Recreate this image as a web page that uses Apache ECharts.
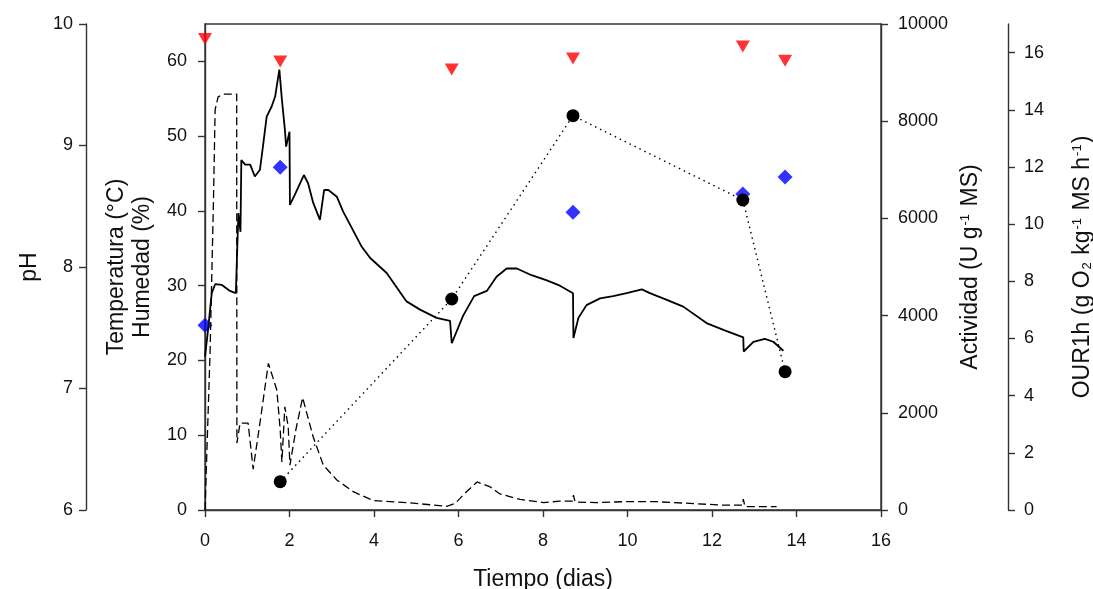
<!DOCTYPE html>
<html>
<head>
<meta charset="utf-8">
<script src="https://cdn.jsdelivr.net/npm/echarts@6.0.0/dist/echarts.min.js"></script>
<style>
  html, body { margin: 0; padding: 0; background: #fff; }
  #chart { width: 1093px; height: 589px; }
</style>
</head>
<body>
<div id="chart"></div>
<script>
// temperatura (solid line), days / °C
const tempT = [0, 0.07, 0.16, 0.24, 0.40, 0.59, 0.73, 0.76, 0.79, 0.84, 0.86, 0.95, 1.07, 1.18, 1.30, 1.38, 1.46, 1.58, 1.66, 1.76, 1.82, 1.89, 1.92, 2.00, 2.01, 2.13, 2.25, 2.34, 2.44, 2.56, 2.72, 2.82, 2.92, 3.12, 3.27, 3.43, 3.71, 3.91, 4.30, 4.77, 5.09, 5.48, 5.80, 5.83, 5.84, 6.11, 6.37, 6.67, 6.90, 7.14, 7.38, 7.73, 8.09, 8.40, 8.71, 8.72, 8.84, 9.03, 9.35, 9.66, 9.98, 10.34, 10.53, 10.93, 11.32, 11.87, 12.27, 12.74, 12.75, 12.98, 13.25, 13.45, 13.69]
const tempV = [20.5, 24.0, 29.0, 30.2, 30.1, 29.3, 29.0, 29.0, 39.7, 37.2, 46.8, 46.2, 46.2, 44.6, 45.5, 49.0, 52.6, 54.0, 55.3, 58.9, 54.9, 50.9, 48.6, 50.6, 40.8, 42.2, 43.7, 44.8, 43.7, 41.1, 38.8, 42.8, 42.8, 41.9, 39.9, 38.2, 35.2, 33.7, 31.7, 27.9, 26.8, 25.7, 25.3, 25.3, 22.3, 26.0, 28.6, 29.3, 31.2, 32.3, 32.3, 31.4, 30.7, 30.0, 29.0, 23.0, 25.7, 27.4, 28.3, 28.6, 29.0, 29.5, 29.0, 28.1, 27.2, 25.0, 24.1, 23.1, 21.2, 22.5, 22.9, 22.5, 21.3]

// OUR1h (dashed line)
const ourT = [0, 0.12, 0.20, 0.24, 0.31, 0.43, 0.75, 0.755, 0.83, 0.95, 1.02, 1.14, 1.30, 1.50, 1.70, 1.78, 1.82, 1.89, 1.97, 2.01, 2.15, 2.31, 2.56, 2.80, 3.12, 3.51, 3.98, 4.77, 5.72, 5.92, 6.19, 6.44, 6.75, 6.98, 7.46, 8.01, 8.40, 8.70, 8.72, 8.76, 9.27, 9.90, 10.69, 11.48, 12.27, 12.72, 12.74, 12.78, 13.53]
const ourV = [0, 5.5, 10.8, 14.0, 14.45, 14.55, 14.55, 2.34, 3.04, 3.04, 3.04, 1.43, 3.04, 5.13, 4.2, 2.8, 1.68, 3.61, 2.91, 1.57, 2.8, 3.93, 2.56, 1.57, 1.05, 0.64, 0.33, 0.26, 0.13, 0.23, 0.64, 0.98, 0.81, 0.56, 0.37, 0.26, 0.31, 0.31, 0.52, 0.28, 0.26, 0.29, 0.29, 0.23, 0.17, 0.17, 0.38, 0.12, 0.12]

// muestreos
const sampleT = [0, 1.78, 5.84, 8.71, 12.73, 13.73]
const humedad = [63.0, 60.0, 58.9, 60.4, 62.0, 60.1]
const phT = [0, 1.78, 8.71, 12.73, 13.73]
const ph = [7.52, 8.82, 8.45, 8.60, 8.74]
const actT = [1.78, 5.84, 8.71, 12.73, 13.73]
const actividad = [582, 4342, 8113, 6379, 2846]

const xTicks = [0, 2, 4, 6, 8, 10, 12, 14, 16]
const tempTicks = [0, 10, 20, 30, 40, 50, 60]
const ourTicks = [0, 2, 4, 6, 8, 10, 12, 14, 16]

const zip = (a, b) => a.map((v, i) => [v, b[i]])

const axisCol = '#333'
const txt = '#111'
const font = 'Liberation Sans, Arial, sans-serif'
const tickLbl = { color: txt, fontSize: 18, fontFamily: font, formatter: v => String(v) }
const nameStyle = {
  color: txt, fontSize: 23, fontFamily: font,
  rich: {
    a:   { fontSize: 23, fontFamily: font, color: txt },
    sup: { fontSize: 13, fontFamily: font, color: txt, verticalAlign: 'top', padding: [0, 1, 0, 1] },
    sub: { fontSize: 13, fontFamily: font, color: txt, verticalAlign: 'bottom', padding: [0, 1, 0, 1] },
  }
}
const baseY = {
  type: 'value',
  splitLine: { show: false },
  axisLine: { show: true, lineStyle: { color: axisCol, width: 1.4 } },
  axisTick: { show: true, length: 7, lineStyle: { color: axisCol, width: 1.4 } },
  axisLabel: { ...tickLbl },
  nameLocation: 'middle',
  nameRotate: 90,
  nameTextStyle: nameStyle,
}

const chart = echarts.init(document.getElementById('chart'))

chart.setOption({
  animation: false,
  backgroundColor: '#fff',
  grid: {
    left: 205, right: 212, top: 24, bottom: 79,
    outerBoundsMode: 'none', containLabel: false,
    show: true, borderColor: axisCol, borderWidth: 1.4, backgroundColor: 'transparent'
  },
  xAxis: {
    type: 'value', min: 0, max: 16, interval: 2,
    splitLine: { show: false },
    axisLine: { lineStyle: { color: axisCol, width: 1.4 } },
    axisTick: { length: 7, lineStyle: { color: axisCol, width: 1.4 }, customValues: xTicks },
    axisLabel: { ...tickLbl, margin: 22, customValues: xTicks },
    name: 'Tiempo (dias)', nameLocation: 'middle', nameGap: 58,
    nameTextStyle: nameStyle,
  },
  yAxis: [
    { ...baseY, position: 'left', min: 0, max: 65, interval: 10,
      axisTick: { ...baseY.axisTick, customValues: tempTicks },
      axisLabel: { ...tickLbl, margin: 18, customValues: tempTicks },
      name: 'Temperatura (°C)\nHumedad (%)', nameGap: 43,
      nameTextStyle: { ...nameStyle, lineHeight: 26 } },
    { ...baseY, position: 'left', offset: 119, min: 6, max: 10, interval: 1,
      axisLabel: { ...tickLbl, margin: 13 },
      name: 'pH', nameGap: 45 },
    { ...baseY, position: 'right', min: 0, max: 10000, interval: 2000,
      axisLabel: { ...tickLbl, margin: 17 },
      name: '{a|Actividad (U g}{sup|-1}{a| MS)}', nameGap: 74 },
    { ...baseY, position: 'right', offset: 127, min: 0, max: 17, interval: 2,
      axisTick: { ...baseY.axisTick, customValues: ourTicks },
      axisLabel: { ...tickLbl, margin: 16, customValues: ourTicks },
      name: '{a|OUR1h (g O}{sub|2}{a| kg}{sup|-1}{a| MS h}{sup|-1}{a|)}', nameGap: 63 },
  ],
  series: [
    {
      name: 'Temperatura', type: 'line', yAxisIndex: 0, showSymbol: false, symbol: 'none',
      lineStyle: { color: '#000', width: 1.8 },
      data: zip(tempT, tempV),
    },
    {
      name: 'OUR1h', type: 'line', yAxisIndex: 3, showSymbol: false, symbol: 'none',
      lineStyle: { color: '#000', width: 1.3, type: [8, 4] },
      data: zip(ourT, ourV),
    },
    {
      name: 'Actividad', type: 'line', yAxisIndex: 2, symbol: 'circle', symbolSize: 13,
      itemStyle: { color: '#000' },
      lineStyle: { color: '#000', width: 1.4, type: [1.5, 4] },
      data: zip(actT, actividad),
    },
    {
      name: 'pH', type: 'scatter', yAxisIndex: 1, symbol: 'diamond', symbolSize: 15,
      itemStyle: { color: '#0000ff' },
      data: zip(phT, ph),
    },
    {
      name: 'Humedad', type: 'scatter', yAxisIndex: 0, symbol: 'triangle', symbolRotate: 180, symbolSize: [14, 12],
      itemStyle: { color: '#ff0000' },
      data: zip(sampleT, humedad),
    },
  ],
})
</script>
</body>
</html>
